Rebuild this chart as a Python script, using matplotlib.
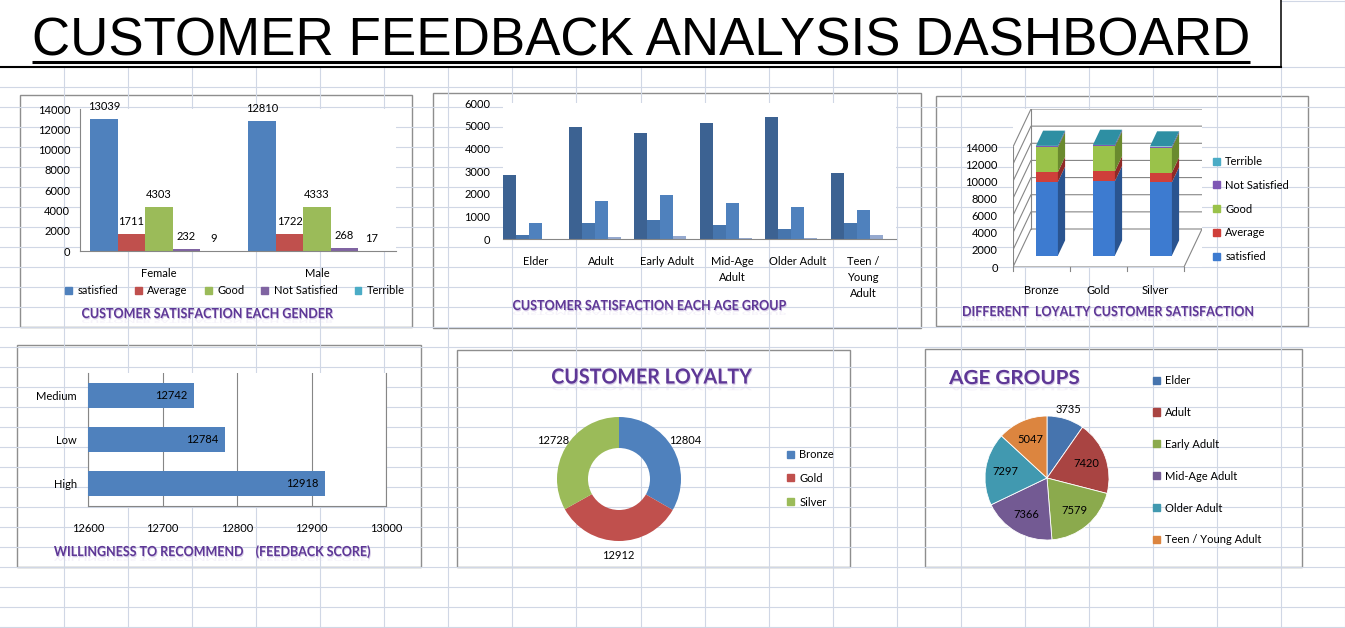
import sys
import numpy as np
import matplotlib
matplotlib.use("Agg")
import matplotlib.pyplot as plt
from matplotlib.patches import Rectangle, Polygon, Patch, PathPatch
from matplotlib.textpath import TextPath
from matplotlib.font_manager import FontProperties
from matplotlib.transforms import Affine2D


W, H = 1345, 628

# Satisfaction ratings used by the gender / age / loyalty charts
RATINGS = ["satisfied", "Average", "Good", "Not Satisfied", "Terrible"]
RATING_COLORS = ["#4F81BD", "#C0504D", "#9BBB59", "#8064A2", "#4BACC6"]

# Customer satisfaction by gender
GENDERS = ["Female", "Male"]
GENDER_SATISFIED = [13039, 12810]
GENDER_AVERAGE = [1711, 1722]
GENDER_GOOD = [4303, 4333]
GENDER_NOT_SATISFIED = [232, 268]
GENDER_TERRIBLE = [9, 17]

# Customer satisfaction by age group
AGE_GROUPS = ["Elder", "Adult", "Early Adult", "Mid-Age Adult", "Older Adult", "Teen / Young Adult"]
AGE_TICK_LABELS = ["Elder", "Adult", "Early Adult", "Mid-Age\nAdult", "Older Adult", "Teen /\nYoung\nAdult"]
AGE_SATISFIED = [2839, 4950, 4680, 5110, 5380, 2890]
AGE_AVERAGE = [170, 690, 840, 600, 440, 693]
AGE_GOOD = [720, 1680, 1925, 1600, 1420, 1291]
AGE_NOT_SATISFIED = [4, 95, 128, 52, 54, 167]
AGE_TERRIBLE = [2, 5, 6, 4, 3, 6]
AGE_BAR_COLORS = ["#3C6292", "#4675AD", "#4F81BD", "#95A9CF", "#B9CDE5"]
AGE_TOTALS = [3735, 7420, 7579, 7366, 7297, 5047]
AGE_PIE_COLORS = ["#4674AE", "#A94442", "#8BAA4D", "#735A93", "#4199B0", "#DC853F"]

# Customer satisfaction by loyalty level
LOYALTY = ["Bronze", "Gold", "Silver"]
LOYALTY_TOTALS = [12804, 12912, 12728]
LOYALTY_SATISFIED = [8610, 8690, 8549]
LOYALTY_AVERAGE = [1140, 1150, 1143]
LOYALTY_GOOD = [2880, 2890, 2866]
LOYALTY_NOT_SATISFIED = [165, 172, 163]
LOYALTY_TERRIBLE = [9, 10, 7]
LOYALTY_COLORS = ["#4F81BD", "#C0504D", "#9BBB59"]

# Willingness to recommend (feedback score)
RECOMMEND = ["High", "Low", "Medium"]
RECOMMEND_SCORES = [12918, 12784, 12742]

FONT = "Lato"
PURPLE = "#5E3796"
AXIS_GRAY = "#868686"
TICK_SIZE = 8


def px_box(x0, y0, x1, y1):
    """Figure-fraction rectangle from pixel corners (origin top-left)."""
    return [x0 / W, 1 - y1 / H, (x1 - x0) / W, (y1 - y0) / H]


def chart_title(bg, x0, x1, yc, text, cap=10):
    """Condensed bold purple title squeezed into [x0, x1] with a given cap height (pixels)."""
    prop = FontProperties(family=FONT, weight="bold")
    ref = TextPath((0, 0), "H", size=100, prop=prop).get_extents()
    size = cap * 100 / ref.height
    tp = TextPath((0, 0), text, size=size, prop=prop)
    ext = tp.get_extents()
    sx = (x1 - x0) / ext.width
    base = yc + cap / 2
    # faint reflection below, then the shadow and the text
    refl = Affine2D().translate(-ext.x0, 0).scale(sx, 0.35).translate(x0, base + 1.5) + bg.transData
    bg.add_patch(PathPatch(tp, transform=refl, fc="#E4DCF0", ec="none", alpha=0.35, zorder=5))
    shadow = Affine2D().translate(-ext.x0, 0).scale(sx, -1).translate(x0 + 0.8, base + 1.2) + bg.transData
    bg.add_patch(PathPatch(tp, transform=shadow, fc="#B6A3D3", ec="none", alpha=0.6, zorder=5))
    tr = Affine2D().translate(-ext.x0, 0).scale(sx, -1).translate(x0, base) + bg.transData
    bg.add_patch(PathPatch(tp, transform=tr, fc=PURPLE, ec="none", zorder=6))


def square_legend(fig, handles, labels, x, y, spacing, ncol=1, colspace=1.0):
    fig.legend(handles, labels, loc="upper left", bbox_to_anchor=(x / W, 1 - y / H),
               ncol=ncol, frameon=False, fontsize=TICK_SIZE, handlelength=0.6,
               handleheight=0.6, handletextpad=0.5, labelspacing=spacing,
               columnspacing=colspace, borderaxespad=0, borderpad=0)


def draw_background(fig):
    bg = fig.add_axes([0, 0, 1, 1])
    bg.set_xlim(0, W)
    bg.set_ylim(H, 0)
    bg.axis("off")
    grid = "#D0D7E5"
    for x in np.arange(1, 22) * 64.05:
        top = 0 if x > 1282 else 67
        bg.plot([x, x], [top, H], color=grid, lw=0.8)
    for y in np.arange(67, H + 1, 20):
        bg.plot([0, W], [y, y], color=grid, lw=0.8)
    bg.plot([1281, W], [0.5, 0.5], color=grid, lw=0.8)

    # header cell
    bg.add_patch(Rectangle((0, 0), 1281, 67, fc="white", ec="none"))
    bg.plot([1281, 1281], [0, 67], color="black", lw=1.1)
    bg.plot([0, 1281], [67, 67], color="black", lw=1.5)
    return bg


def draw_header(fig, bg):
    title = bg.text(32, 55, "CUSTOMER FEEDBACK ANALYSIS DASHBOARD", ha="left", va="baseline",
                    fontsize=38.1, family="Liberation Sans", color="black")
    fig.canvas.draw()
    bb = title.get_window_extent().transformed(bg.transData.inverted())
    bg.plot([bb.x0, bb.x1], [62, 62], color="black", lw=2.2, solid_capstyle="butt")


def panel(bg, x0, y0, x1, y1):
    bg.add_patch(Rectangle((x0, y0), x1 - x0, y1 - y0, fc="white", ec="#8E8E8E", lw=1.0))


def style_axis(ax, left=True, bottom=True):
    for side in ["top", "right"]:
        ax.spines[side].set_visible(False)
    ax.spines["left"].set_visible(left)
    ax.spines["bottom"].set_visible(bottom)
    for side in ["left", "bottom"]:
        ax.spines[side].set_color(AXIS_GRAY)
    ax.tick_params(labelsize=TICK_SIZE, length=0)


def gender_chart(fig, bg):
    panel(bg, 20, 95, 412, 327)
    ax = fig.add_axes(px_box(80, 109, 396, 251))
    series = [GENDER_SATISFIED, GENDER_AVERAGE, GENDER_GOOD, GENDER_NOT_SATISFIED, GENDER_TERRIBLE]
    x = np.arange(len(GENDERS))
    width = 0.174
    handles = []
    for j, vals in enumerate(series):
        bars = ax.bar(x + (j - 2) * width, vals, width, color=RATING_COLORS[j])
        ax.bar_label(bars, padding=5, fontsize=TICK_SIZE)
        handles.append(Patch(color=RATING_COLORS[j]))
    ax.set_xlim(-0.5, len(GENDERS) - 0.5)
    ax.set_ylim(0, 14000)
    ax.set_yticks(np.arange(0, 14001, 2000))
    ax.set_xticks(x, GENDERS)
    style_axis(ax)
    ax.tick_params(axis="x", pad=12)
    ax.tick_params(axis="y", pad=7)
    square_legend(fig, handles, RATINGS, 65, 285, 0.5, ncol=5, colspace=1.55)
    chart_title(bg, 82, 333, 313, "CUSTOMER SATISFACTION EACH GENDER")


def age_satisfaction_chart(fig, bg):
    panel(bg, 433, 93, 921, 328)
    ax = fig.add_axes(px_box(503, 103, 896, 239))
    series = [AGE_SATISFIED, AGE_AVERAGE, AGE_GOOD, AGE_NOT_SATISFIED, AGE_TERRIBLE]
    x = np.arange(len(AGE_GROUPS))
    width = 0.2
    for j, vals in enumerate(series):
        ax.bar(x - 0.5 + (j + 0.5) * width, vals, width, color=AGE_BAR_COLORS[j])
    ax.set_xlim(-0.5, len(AGE_GROUPS) - 0.5)
    ax.set_ylim(0, 6000)
    ax.set_yticks(np.arange(0, 6001, 1000))
    ax.set_xticks(x, AGE_TICK_LABELS, linespacing=1.55)
    style_axis(ax, left=False)
    ax.tick_params(axis="x", pad=12)
    ax.tick_params(axis="y", pad=9)
    chart_title(bg, 513, 786, 305, "CUSTOMER SATISFACTION EACH AGE GROUP")


def loyalty_3d_chart(fig, bg):
    panel(bg, 936, 96, 1308, 326)
    ax = fig.add_axes(px_box(1013, 109, 1202, 267))
    ymax = 14000
    ddx = 18 * 3 / 171          # depth offset in category units
    ddy = 38 * ymax / 120       # depth offset in value units
    ax.set_xlim(-0.5, len(LOYALTY) - 0.5 + ddx)
    ax.set_ylim(0, ymax + ddy)
    for s in ax.spines.values():
        s.set_visible(False)
    ticks = np.arange(0, ymax + 1, 2000)
    ax.set_yticks(ticks)
    ax.set_xticks(np.arange(len(LOYALTY)), LOYALTY)
    ax.tick_params(labelsize=TICK_SIZE, length=0)
    ax.tick_params(axis="y", pad=11)
    ax.tick_params(axis="x", pad=13)

    xl, xr = -0.5, len(LOYALTY) - 0.5
    gl = dict(color=AXIS_GRAY, lw=0.8, zorder=1)
    for v in ticks:
        ax.plot([xl, xl + ddx, xr + ddx], [v, v + ddy, v + ddy], **gl)
    ax.plot([xl, xl], [0, ymax], **gl)
    ax.plot([xl + ddx, xl + ddx], [ddy, ymax + ddy], **gl)
    ax.plot([xl, xr, xr + ddx], [0, 0, ddy], **gl)
    for b in np.arange(len(LOYALTY) + 1) - 0.5:
        ax.plot([b, b], [0, -500], clip_on=False, **gl)

    series = [LOYALTY_SATISFIED, LOYALTY_AVERAGE, LOYALTY_GOOD, LOYALTY_NOT_SATISFIED, LOYALTY_TERRIBLE]
    fronts = ["#3D7BD0", "#CF3F3A", "#9AC24A", "#7E57B5", "#4BACC6"]
    sides = ["#2A5490", "#8F2A27", "#6A8A2E", "#553A7E", "#2E7F92"]
    top_color = "#2E8FA3"
    bw = 22 / 57
    f0, f1 = 0.3, 0.7
    sx, sy = (f1 - f0) * ddx, (f1 - f0) * ddy
    for i in range(len(LOYALTY)):
        bottom = 0
        x0 = i - bw / 2 + f0 * ddx
        for j, vals in enumerate(series):
            h = vals[i]
            y0 = bottom + f0 * ddy
            ax.add_patch(Rectangle((x0, y0), bw, h, fc=fronts[j], ec="none", zorder=3))
            ax.add_patch(Polygon([(x0 + bw, y0), (x0 + bw + sx, y0 + sy),
                                  (x0 + bw + sx, y0 + sy + h), (x0 + bw, y0 + h)],
                                 fc=sides[j], ec="none", zorder=3))
            bottom += h
        yt = bottom + f0 * ddy
        ax.add_patch(Polygon([(x0, yt), (x0 + bw, yt), (x0 + bw + sx, yt + sy), (x0 + sx, yt + sy)],
                             fc=top_color, ec="none", zorder=4))

    handles = [Patch(color=c) for c in fronts][::-1]
    square_legend(fig, handles, RATINGS[::-1], 1213, 156, 1.15)
    chart_title(bg, 963, 1253, 311, "DIFFERENT  LOYALTY CUSTOMER SATISFACTION")


def recommend_chart(fig, bg):
    panel(bg, 17, 345, 421, 567)
    ax = fig.add_axes(px_box(88, 373, 386, 506))
    y = np.arange(len(RECOMMEND))
    bars = ax.barh(y, RECOMMEND_SCORES, height=0.565, color="#4F81BD", zorder=3)
    for rect, val in zip(bars, RECOMMEND_SCORES):
        ax.annotate(f"{val}", (rect.get_width(), rect.get_y() + rect.get_height() / 2),
                    xytext=(-5, 0), textcoords="offset points", ha="right", va="center",
                    fontsize=TICK_SIZE, zorder=4)
    ax.set_xlim(12600, 13000)
    ax.set_ylim(-0.5, len(RECOMMEND) - 0.5)
    ax.set_xticks(np.arange(12600, 13001, 100))
    ax.set_yticks(y, RECOMMEND)
    style_axis(ax)
    ax.spines["right"].set_visible(True)
    ax.spines["right"].set_color(AXIS_GRAY)
    ax.grid(axis="x", color=AXIS_GRAY, lw=0.8, zorder=1)
    ax.tick_params(axis="x", pad=12)
    ax.tick_params(axis="y", pad=8)
    chart_title(bg, 54, 370, 551, "WILLINGNESS TO RECOMMEND    (FEEDBACK SCORE)")


def loyalty_donut_chart(fig, bg):
    panel(bg, 457, 350, 850, 567)
    cx, cy, r = 619, 479, 62
    ax = fig.add_axes(px_box(cx - r, cy - r, cx + r, cy + r))
    _, texts = ax.pie(LOYALTY_TOTALS, labels=[str(v) for v in LOYALTY_TOTALS], colors=LOYALTY_COLORS,
                      startangle=90, counterclock=False, labeldistance=1.24,
                      wedgeprops=dict(width=0.5, edgecolor="none"),
                      textprops=dict(fontsize=TICK_SIZE))
    for t in texts:
        t.set_ha("center")
        t.set_va("center")
    ax.set_xlim(-1, 1)
    ax.set_ylim(-1, 1)
    handles = [Patch(color=c) for c in LOYALTY_COLORS]
    square_legend(fig, handles, LOYALTY, 787, 449, 1.15)
    chart_title(bg, 552, 752, 376, "CUSTOMER LOYALTY", cap=15)


def age_pie_chart(fig, bg):
    panel(bg, 925, 349, 1302, 567)
    cx, cy, r = 1047, 478, 62
    ax = fig.add_axes(px_box(cx - r, cy - r, cx + r, cy + r))
    wedges, _ = ax.pie(AGE_TOTALS, colors=AGE_PIE_COLORS, startangle=90, counterclock=False,
                       wedgeprops=dict(edgecolor="white", linewidth=0.6))
    total = sum(AGE_TOTALS)
    for w, val in zip(wedges, AGE_TOTALS):
        ang = np.deg2rad((w.theta1 + w.theta2) / 2)
        dist = 1.15 if val / total < 0.12 else 0.68
        ax.text(dist * np.cos(ang), dist * np.sin(ang), f"{val}", ha="center", va="center",
                fontsize=TICK_SIZE)
    ax.set_xlim(-1, 1)
    ax.set_ylim(-1, 1)
    handles = [Patch(color=c) for c in AGE_PIE_COLORS]
    square_legend(fig, handles, AGE_GROUPS, 1153, 375, 1.88)
    chart_title(bg, 949, 1079, 377, "AGE GROUPS", cap=14)


def main():
    plt.rcParams["font.family"] = FONT
    fig = plt.figure(figsize=(W / 100, H / 100), dpi=100)
    fig.patch.set_facecolor("white")
    bg = draw_background(fig)
    draw_header(fig, bg)
    gender_chart(fig, bg)
    age_satisfaction_chart(fig, bg)
    loyalty_3d_chart(fig, bg)
    recommend_chart(fig, bg)
    loyalty_donut_chart(fig, bg)
    age_pie_chart(fig, bg)
    fig.savefig("out.png", dpi=100)
    return 0


if __name__ == "__main__":
    sys.exit(main())
